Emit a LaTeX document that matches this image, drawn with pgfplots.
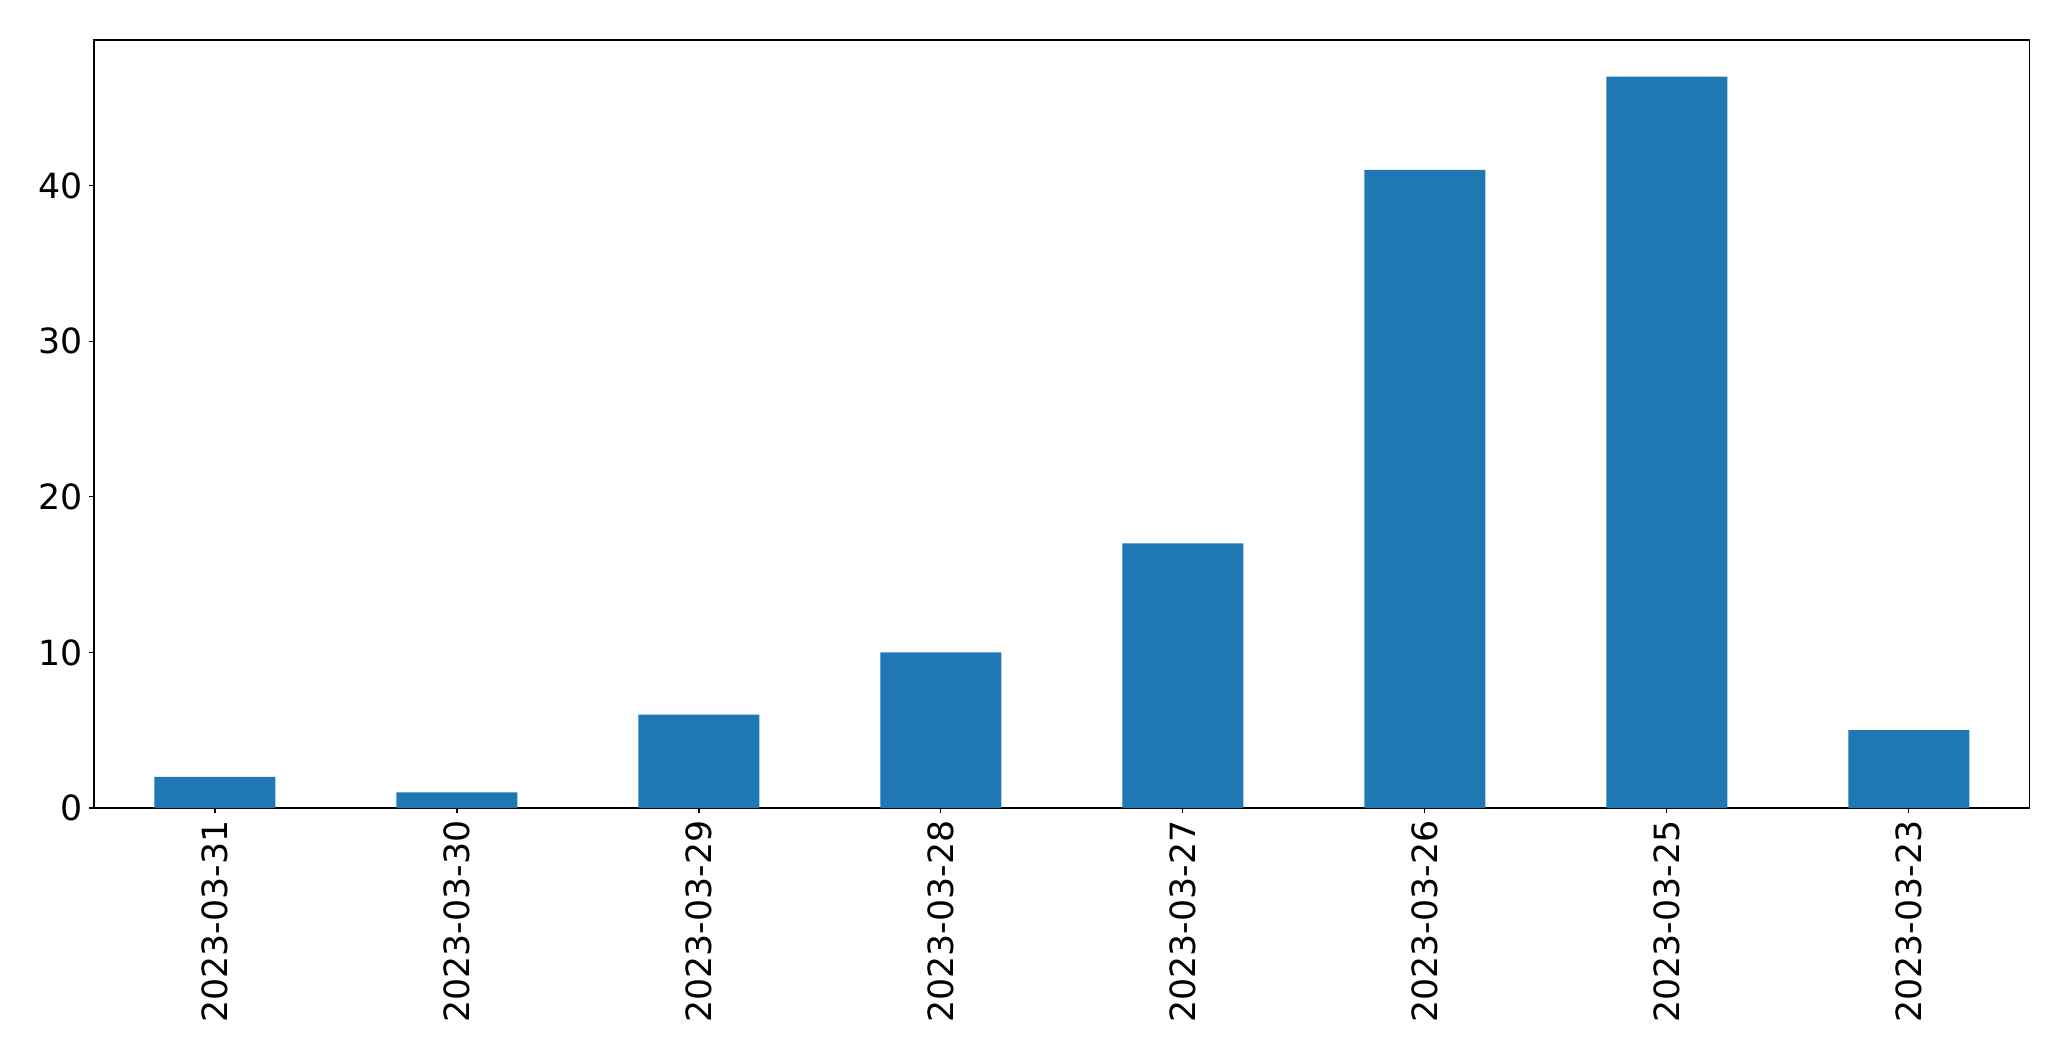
\documentclass[border=0pt]{standalone}
\usepackage{pgfplots}
\pgfplotsset{compat=1.18}
\usepackage{fontspec}
\setmainfont{DejaVu Sans}
\definecolor{mplblue}{HTML}{1F77B4}
\begin{document}
\begin{tikzpicture}
\useasboundingbox (0,0) rectangle (1491.12pt,763.92pt);
\begin{axis}[
  at={(67.68pt,182.16pt)}, anchor=south west,
  scale only axis, width=1393.92pt, height=552.96pt,
  xmin=-0.5, xmax=7.5, ymin=0, ymax=49.35,
  xtick={0,1,2,3,4,5,6,7},
  xticklabels={2023-03-31,2023-03-30,2023-03-29,2023-03-28,2023-03-27,2023-03-26,2023-03-25,2023-03-23},
  x tick label style={rotate=90, anchor=east, font=\fontsize{25}{29}\selectfont},
  ytick={0,10,20,30,40},
  y tick label style={font=\fontsize{25}{29}\selectfont},
  /pgf/number format/assume math mode=true,
  tick align=outside, tick pos=left,
  major tick length=3.5pt,
  every tick/.style={black, line width=0.8pt},
  axis line style={line width=0.8pt},
  xticklabel shift=2pt, yticklabel shift=1pt,
]
\addplot[ybar, bar width=0.5, fill=mplblue, draw=none, bar shift=0pt] coordinates {
(0,2) (1,1) (2,6) (3,10) (4,17) (5,41) (6,47) (7,5)
};
\end{axis}
\end{tikzpicture}
\end{document}
